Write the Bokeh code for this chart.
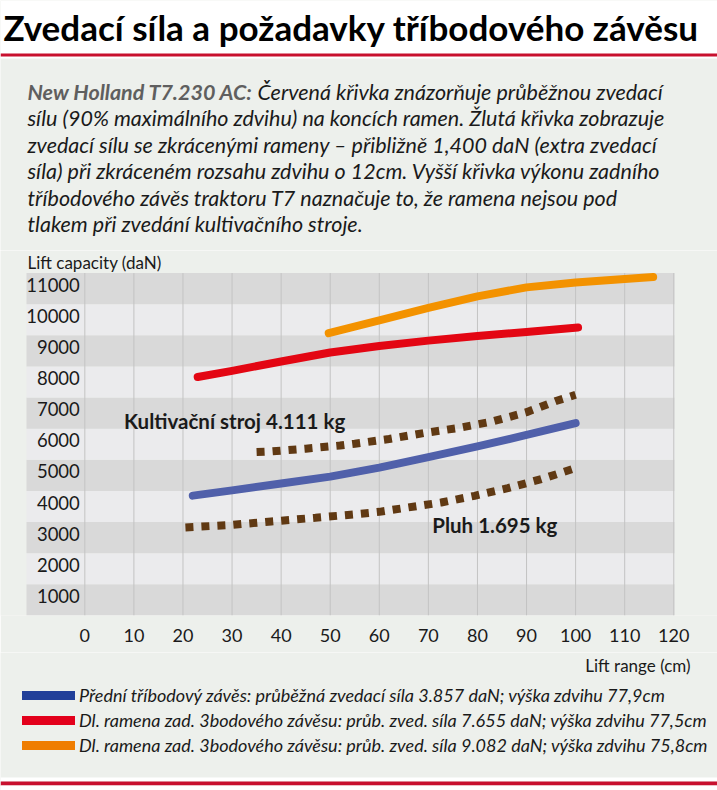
from bokeh.plotting import figure
from bokeh.layouts import column
from bokeh.models import Range1d, FixedTicker, Label, BoxAnnotation, Legend, LegendItem
from bokeh.core.properties import value
from bokeh.embed import file_html
from bokeh.resources import INLINE

# ---------------- data ----------------
front_x = [22, 30, 40, 50, 60, 70, 80, 90, 100]
front_y = [4350, 4520, 4740, 4960, 5250, 5590, 5930, 6300, 6680]

rear_long_x = [23, 30, 40, 50, 60, 70, 80, 90, 100.5]
rear_long_y = [8160, 8360, 8660, 8950, 9160, 9330, 9480, 9610, 9750]

rear_short_x = [49.7, 60, 70, 80, 90, 100, 110, 115.8]
rear_short_y = [9570, 9980, 10380, 10750, 11040, 11200, 11310, 11370]

cultivator_x = [35, 38, 45, 52, 55, 62, 69, 76, 83, 90, 96, 100]
cultivator_y = [5750, 5770, 5860, 5960, 6020, 6170, 6360, 6520, 6730, 7030, 7390, 7590]

plough_x = [20.5, 30, 38, 47, 55, 60, 65, 72.6, 79.4, 86.2, 93, 99.5]
plough_y = [3330, 3410, 3520, 3640, 3750, 3830, 3950, 4130, 4345, 4590, 4880, 5210]

x_ticks = [0, 10, 20, 30, 40, 50, 60, 70, 80, 90, 100, 110, 120]
y_ticks = [1000, 2000, 3000, 4000, 5000, 6000, 7000, 8000, 9000, 10000, 11000]
y_tick_labels = ["1000", "2000", "3000", "4000", "5000", "6000", "7000", "8000", "9000", "10000", "11000"]

legend_labels = [
    "Přední tříbodový závěs: průběžná zvedací síla 3.857 daN; výška zdvihu 77,9cm",
    "Dl. ramena zad. 3bodového závěsu: průb. zved. síla 7.655 daN; výška zdvihu 77,5cm",
    "Dl. ramena zad. 3bodového závěsu: průb. zved. síla 9.082 daN; výška zdvihu 75,8cm",
]
legend_colors = ["#213f99", "#e3001b", "#ef7d00"]

title_text = "Zvedací síla a požadavky tříbodového závěsu"
intro_bold = "New Holland T7.230 AC:"
intro_lines = [
    "Červená křivka znázorňuje průběžnou zvedací",
    "sílu (90% maximálního zdvihu) na koncích ramen. Žlutá křivka zobrazuje",
    "zvedací sílu se zkrácenými rameny – přibližně 1,400 daN (extra zvedací",
    "síla) při zkráceném rozsahu zdvihu o 12cm. Vyšší křivka výkonu zadního",
    "tříbodového závěs traktoru T7 naznačuje to, že ramena nejsou pod",
    "tlakem při zvedání kultivačního stroje.",
]
annot_cult = "Kultivační stroj 4.111 kg"
annot_plough = "Pluh 1.695 kg"
y_title = "Lift capacity (daN)"
x_title = "Lift range (cm)"

# ---------------- style ----------------
FONT = "Lato"
INK = "#1a1a1a"
BAND_DARK = "#d9d9d9"
BAND_LIGHT = "#ebebed"
PANEL = "#edf0ec"
RED_RULE = "#c8102e"
W = 717
H_TOP, H_CHART, H_BOT = 250, 402, 138


def bare(height):
    f = figure(width=W, height=height, x_range=Range1d(0, 1), y_range=Range1d(0, 1),
               x_axis_type=None, y_axis_type=None, output_backend="svg",
               toolbar_location=None, min_border=0, outline_line_color=None,
               background_fill_color=PANEL, border_fill_color=PANEL)
    f.grid.visible = False
    return f


def box(f, top, bottom, color):
    f.add_layout(BoxAnnotation(left=0, right=W, top=top, bottom=bottom,
                               left_units="screen", right_units="screen",
                               top_units="screen", bottom_units="screen",
                               fill_color=color, fill_alpha=1, line_color=None,
                               level="underlay"))


def lab(f, text, x, y, size, style="normal", color=INK, align="left", baseline="middle"):
    f.add_layout(Label(x=x, y=y, x_units="screen", y_units="screen", text=text,
                       text_font=FONT, text_font_size=size, text_font_style=style,
                       text_color=color, text_align=align, text_baseline=baseline))


# ================= header =================
top = bare(H_TOP)
box(top, H_TOP, H_TOP - 58, "white")
box(top, H_TOP - 53, H_TOP - 56, RED_RULE)
lab(top, title_text, 3, H_TOP - 26, "35px", style="bold", color="#000000")
lab(top, intro_bold, 27, H_TOP - 91, "21.5px", style="bold italic", color="#5f5f5f")
lab(top, intro_lines[0], 257, H_TOP - 91, "21.5px", style="italic")
for i, line in enumerate(intro_lines[1:]):
    lab(top, line, 27, H_TOP - (117.5 + 26.5 * i), "21.5px", style="italic")

# ================= chart =================
XMIN, XMAX = -17.18, 128.91          # canvas edges
BAND_L, BAND_R = -11.88, 120.14      # band extent
p = figure(width=W, height=H_CHART,
           x_range=Range1d(XMIN, XMAX),
           y_range=Range1d(y_ticks[0] - 500, 12225),
           output_backend="svg", toolbar_location=None,
           min_border=0, min_border_bottom=37,
           background_fill_color=PANEL, border_fill_color=PANEL,
           outline_line_color=None)
p.yaxis.visible = False
p.grid.visible = False

ax = p.xaxis[0]
ax.ticker = FixedTicker(ticks=x_ticks)
ax.axis_line_color = None
ax.major_tick_line_color = None
ax.minor_tick_line_color = None
ax.major_tick_out = 0
ax.major_tick_in = 0
ax.major_label_standoff = 13
ax.major_label_text_font = FONT
ax.major_label_text_font_size = "18px"
ax.major_label_text_color = INK

band_colors = [BAND_DARK if i % 2 == 0 else BAND_LIGHT for i in range(len(y_ticks))]
p.quad(left=BAND_L, right=BAND_R,
       bottom=[t - 500 for t in y_ticks], top=[t + 500 for t in y_ticks],
       fill_color=band_colors, line_color=None)
p.segment(x0=x_ticks, x1=x_ticks, y0=y_ticks[0] - 500, y1=y_ticks[-1] + 500,
          line_color="#c3c3c3", line_width=1)

p.text(x=x_ticks[0], y=y_ticks, text=y_tick_labels, x_offset=-5, y_offset=-4,
       text_align="right", text_baseline="middle",
       text_font=value(FONT), text_font_size="18.5px", text_color=INK)

p.line(plough_x, plough_y, line_color="#603913", line_width=8, line_dash="8 8")
p.line(cultivator_x, cultivator_y, line_color="#603913", line_width=8, line_dash="8 8")
p.line(front_x, front_y, line_color="#5060aa", line_width=8, line_cap="round", line_join="round")
p.line(rear_long_x, rear_long_y, line_color="#e30613", line_width=8, line_cap="round", line_join="round")
p.line(rear_short_x, rear_short_y, line_color="#f39200", line_width=8, line_cap="round", line_join="round")

p.add_layout(Label(x=8, y=6750, text=annot_cult, text_font=FONT, text_font_style="bold",
                   text_font_size="20.5px", text_color=INK, text_baseline="middle"))
p.add_layout(Label(x=70.8, y=3410, text=annot_plough, text_font=FONT, text_font_style="bold",
                   text_font_size="20.5px", text_color=INK, text_baseline="middle"))

p.add_layout(Label(x=27, y=365 - 12, x_units="screen", y_units="screen", text=y_title,
                   text_font=FONT, text_font_size="17px", text_color=INK,
                   text_baseline="middle"))

# ================= footer =================
bot = bare(H_BOT)
lab(bot, x_title, 690, H_BOT - 13, "17px", align="right")
# legend proxies (a single point outside the view: nothing drawn in the plot)
leg_r = [bot.line(x=[-1], y=[-1], line_color=c, line_width=9, line_cap="round") for c in legend_colors]
legend = Legend(items=[LegendItem(label=t, renderers=[r]) for t, r in zip(legend_labels, leg_r)],
                location=(22, 790 - 756), orientation="vertical",
                glyph_width=53, glyph_height=22, label_height=22, spacing=3,
                padding=0, margin=0, background_fill_alpha=0, border_line_alpha=0,
                label_text_font=FONT, label_text_font_style="italic",
                label_text_font_size="18px", label_text_color=INK, label_standoff=4)
bot.add_layout(legend)
box(bot, 13, 9, "white")
box(bot, 9, 5, RED_RULE)
box(bot, 5, 0, "white")

layout = column(top, p, bot, spacing=0)
open("out.html", "w").write(file_html(layout, INLINE))
